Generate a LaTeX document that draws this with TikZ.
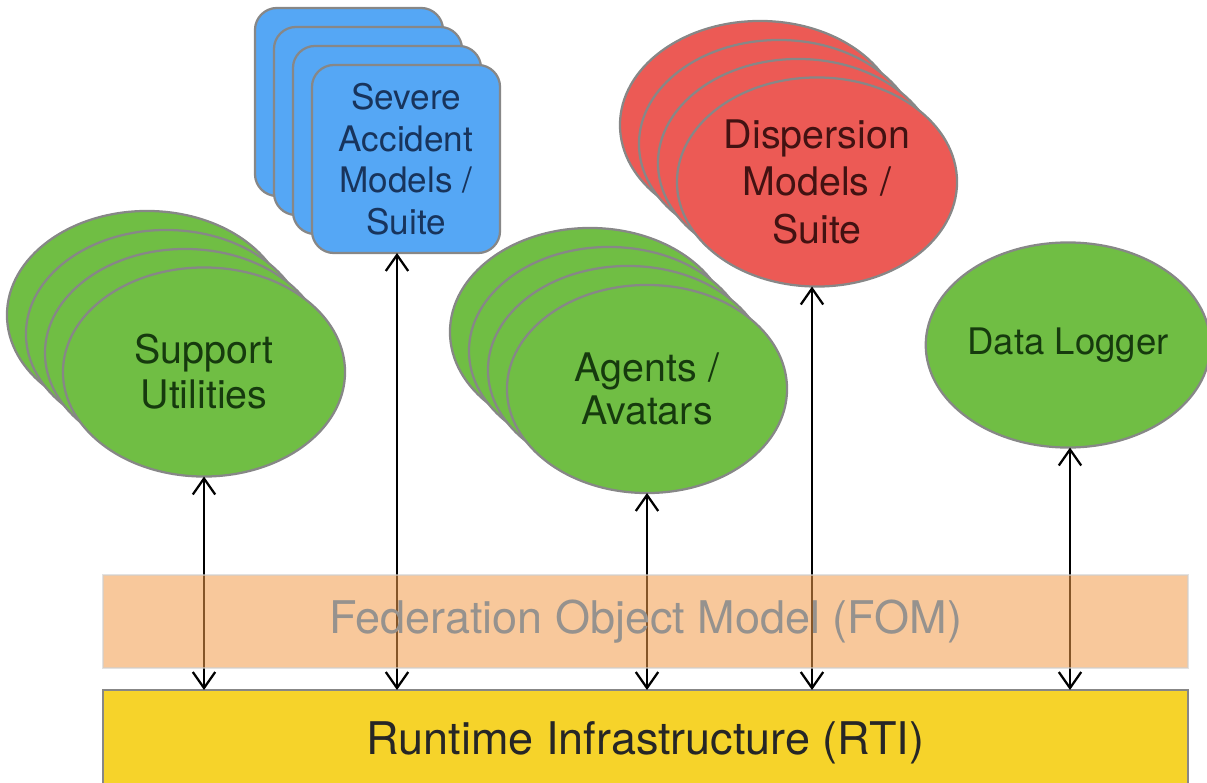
\documentclass[tikz,border=0pt]{standalone}
\usepackage{fontspec}
\setmainfont{TeX Gyre Heros}
\usetikzlibrary{shapes.geometric, arrows.meta, positioning, calc}
\definecolor{federate}{RGB}{112,190,68}
\definecolor{federatetext}{RGB}{22,58,14}
\definecolor{accident}{RGB}{85,167,245}
\definecolor{accidenttext}{RGB}{24,52,92}
\definecolor{dispersion}{RGB}{236,90,85}
\definecolor{dispersiontext}{RGB}{66,18,18}
\definecolor{rtifill}{RGB}{246,211,42}
\definecolor{fomfill}{RGB}{242,155,73}
\definecolor{fomtext}{RGB}{150,146,142}
\definecolor{edgegray}{RGB}{135,135,135}

\begin{document}
\begin{tikzpicture}[x=0.025cm, y=-0.025cm,
  ell/.style={ellipse, draw=edgegray, line width=1.6pt, fill=federate, inner sep=0pt, outer sep=0pt, minimum width=7cm, minimum height=5.2cm, align=center, text=federatetext, font=\fontsize{28}{32}\selectfont},
  redell/.style={ell, fill=dispersion, text=dispersiontext, font=\fontsize{28}{33.5}\selectfont},
  card/.style={rectangle, rounded corners=0.55cm, draw=edgegray, line width=1.6pt, fill=accident, minimum size=4.7cm, inner sep=0pt, outer sep=0pt, align=center, text=accidenttext, font=\fontsize{25}{29.5}\selectfont},
  band/.style={rectangle, inner sep=0pt, outer sep=0pt, minimum width=27.125cm, font=\fontsize{32}{36}\selectfont},
  link/.style={{Straight Barb[length=4mm,width=5.6mm]}-{Straight Barb[length=4mm,width=5.6mm]}, line width=1.6pt}
]
  \useasboundingbox (0,0) rectangle (1207,782);

  % Support utilities stack
  \node[ell] (sup3) at (147,315) {};
  \node[ell] (sup2) at (166,334) {};
  \node[ell] (sup1) at (185,353) {};
  \node[ell, minimum width=7.05cm, minimum height=5.225cm] (sup) at (204,372) {Support\\Utilities};

  % Severe accident stack
  \node[card] (sev3) at (349,102) {};
  \node[card] (sev2) at (368,121) {};
  \node[card] (sev1) at (387,140) {};
  \node[card] (sev) at (406,159) {Severe\\Accident\\Models /\\Suite};

  % Agents stack
  \node[ell] (agt3) at (590,332) {};
  \node[ell] (agt2) at (609,351) {};
  \node[ell] (agt1) at (628,370) {};
  \node[ell, font=\fontsize{28}{31}\selectfont] (agt) at (647,389) {Agents /\\Avatars};

  % Dispersion stack
  \node[redell] (dis3) at (760,125) {};
  \node[redell] (dis2) at (779,144) {};
  \node[redell] (dis1) at (798,163) {};
  \node[redell, minimum height=5.225cm] (dis) at (817,182) {Dispersion\\Models /\\Suite};

  % Data logger
  \node[ell, minimum width=6.9cm, minimum height=5.125cm, font=\fontsize{26}{30}\selectfont] (log) at (1068,345) {Data Logger};

  % RTI
  \node[band, fill=rtifill, draw=edgegray, line width=1.6pt, minimum height=2.625cm, text=black!85] (rti) at (645.5,742.5) {Runtime Infrastructure (RTI)};

  % Connectors
  \draw[link] (sup.south) -- (sup.south |- rti.north);
  \draw[link] ([xshift=-0.225cm]sev.south) -- ([xshift=-0.225cm]sev.south |- rti.north);
  \draw[link] (agt.south) -- (agt.south |- rti.north);
  \draw[link] ([xshift=-0.125cm]dis.south) -- ([xshift=-0.125cm]dis.south |- rti.north);
  \draw[link] ([xshift=0.05cm]log.south) -- ([xshift=0.05cm]log.south |- rti.north);

  % FOM
  \node[band, fill=fomfill, fill opacity=0.55, draw=edgegray!40, draw opacity=0.6, line width=1.4pt, minimum height=2.325cm, text=fomtext, text opacity=1] (fom) at (645.5,621.5) {Federation Object Model (FOM)};
\end{tikzpicture}
\end{document}
